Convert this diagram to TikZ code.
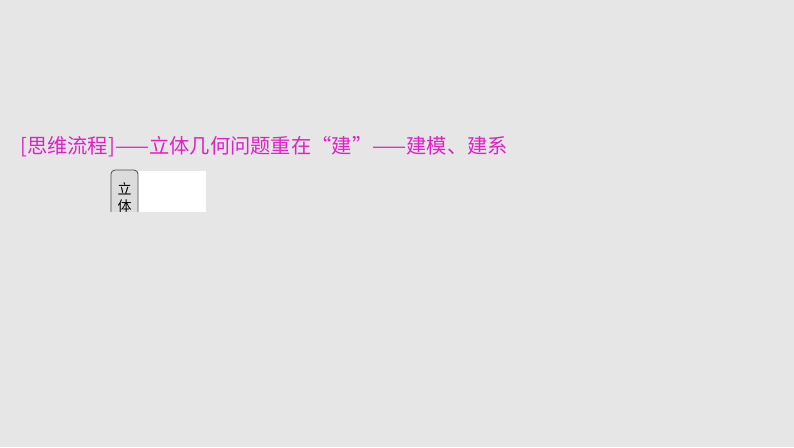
\documentclass[tikz,border=0pt]{standalone}
\usepackage{fontspec}
\newfontfamily\cjk{Noto Sans CJK SC}
\definecolor{bgc}{HTML}{E6E6E6}
\definecolor{titlec}{HTML}{E020C8}
\definecolor{tabc}{HTML}{DCDCDC}
\begin{document}
\begin{tikzpicture}[x=1pt,y=-1pt,
  titletext/.style={anchor=base west,inner sep=0pt,text=titlec,font=\cjk\fontsize{20.3}{20}\selectfont},
  tabbox/.style={draw=black!70,fill=tabc,rounded corners=4pt,line width=0.8pt},
  tabtext/.style={inner sep=0pt,font=\cjk\fontsize{14}{17}\selectfont,align=center,anchor=north}]
\useasboundingbox (0,0) rectangle (794,447);
\fill[bgc] (0,0) rectangle (794,447);
\node[titletext] (title) at (20,153) {[思维流程]——立体几何问题重在“建”——建模、建系};
\begin{scope}
\clip (100,160) rectangle (220,211);
\fill[white] (138,171) rectangle (206,215) coordinate (wb);
\draw[tabbox] (111,170) rectangle (138,230) coordinate (tb);
\node[tabtext] (tab) at (124.5,182) {立\\体};
\end{scope}
\end{tikzpicture}
\end{document}
